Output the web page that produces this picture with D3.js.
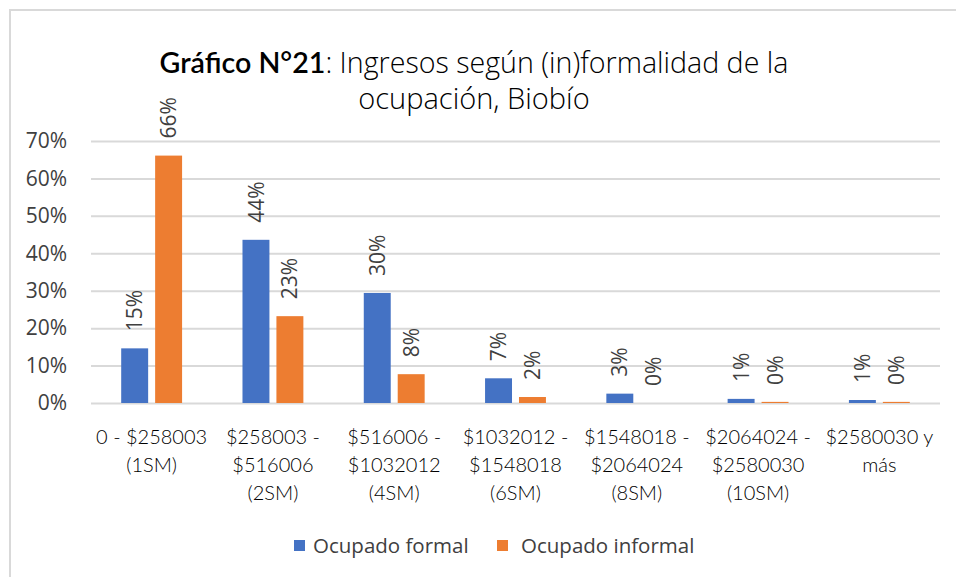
<!DOCTYPE html>
<html>
<head>
<meta charset="utf-8">
<script src="https://cdn.jsdelivr.net/npm/d3@7"></script>
<style>
  html, body { margin: 0; padding: 0; background: #fff; }
  svg { display: block; }
</style>
</head>
<body>
<div id="chart"></div>
<script>
// categorias (rangos de ingreso), cada una en lineas
var categories = [
    ['0 - $258003', '(1SM)'],
    ['$258003 -', '$516006', '(2SM)'],
    ['$516006 -', '$1032012', '(4SM)'],
    ['$1032012 -', '$1548018', '(6SM)'],
    ['$1548018 -', '$2064024', '(8SM)'],
    ['$2064024 -', '$2580030', '(10SM)'],
    ['$2580030 y', 'más']
];
var seriesNames = ['Ocupado formal', 'Ocupado informal'];
var formal = [0.146, 0.436, 0.294, 0.066, 0.025, 0.011, 0.008];
var informal = [0.661, 0.232, 0.077, 0.016, 0.0, 0.003, 0.003];
var labelsFormal = ['15%', '44%', '30%', '7%', '3%', '1%', '1%'];
var labelsInformal = ['66%', '23%', '8%', '2%', '0%', '0%', '0%'];
var yTicks = [0, 0.1, 0.2, 0.3, 0.4, 0.5, 0.6, 0.7];
var colors = ['#4472C4', '#ED7D31'];

var width = 956, height = 577;
var plot = { left: 91, right: 940, top: 141, bottom: 403 };

var svg = d3.select('#chart').append('svg')
    .attr('width', width)
    .attr('height', height);

// chart frame (right/bottom edges fall outside the picture)
svg.append('rect')
    .attr('x', 10).attr('y', 10)
    .attr('width', 960).attr('height', 580)
    .attr('fill', '#fff')
    .attr('stroke', '#d9d9d9')
    .attr('stroke-width', 2);

// title
var title = svg.append('text')
    .attr('x', 474).attr('y', 73)
    .attr('text-anchor', 'middle')
    .style('font-size', '28.6px')
    .style('fill', '#000');
title.append('tspan')
    .style('font-family', 'Lato, sans-serif')
    .style('font-weight', 600)
    .text('Gráfico N°21');
title.append('tspan')
    .style('font-family', '"Open Sans", sans-serif')
    .style('font-weight', 300)
    .text(': Ingresos según (in)formalidad de la');
svg.append('text')
    .attr('x', 474).attr('y', 109)
    .attr('text-anchor', 'middle')
    .style('font-size', '29px')
    .style('font-family', '"Open Sans", sans-serif')
    .style('font-weight', 300)
    .style('fill', '#000')
    .text('ocupación, Biobío');

var y = d3.scaleLinear().domain([0, 0.7]).range([plot.bottom, plot.top]);
var x0 = d3.scaleBand().domain(d3.range(categories.length))
    .range([plot.left, plot.right]).padding(0);
var bw = x0.bandwidth();
var x1 = d3.scaleBand().domain(d3.range(seriesNames.length))
    .range([bw * 0.249, bw * 0.751]).paddingInner(7 / 34).paddingOuter(0);

// gridlines
var yAxis = d3.axisLeft(y).tickValues(yTicks).tickFormat(d3.format('.0%'))
    .tickSize(-(plot.right - plot.left)).tickPadding(24);
var gy = svg.append('g')
    .attr('transform', 'translate(' + plot.left + ',0)')
    .call(yAxis);
gy.select('.domain').remove();
gy.selectAll('.tick line').attr('stroke', '#d9d9d9').attr('stroke-width', 2);
gy.selectAll('.tick text')
    .style('font-family', '"Open Sans", sans-serif')
    .style('font-size', '21px')
    .style('fill', '#404040');

// bars
var values = [formal, informal];
var labels = [labelsFormal, labelsInformal];
values.forEach(function (vals, s) {
    var g = svg.append('g');
    g.selectAll('rect').data(vals).enter().append('rect')
        .attr('x', function (d, i) { return x0(i) + x1(s); })
        .attr('y', function (d) { return y(d); })
        .attr('width', x1.bandwidth())
        .attr('height', function (d) { return y(0) - y(d); })
        .attr('fill', colors[s]);
    g.selectAll('text').data(vals).enter().append('text')
        .attr('transform', function (d, i) {
            var cx = x0(i) + x1(s) + x1.bandwidth() / 2;
            return 'translate(' + cx + ',' + (y(d) - 17) + ') rotate(-90)';
        })
        .attr('dy', '0.36em')
        .style('font-family', '"Open Sans", sans-serif')
        .style('font-size', '21px')
        .style('fill', '#404040')
        .text(function (d, i) { return labels[s][i]; });
});

// category labels
var gx = svg.append('g');
categories.forEach(function (lines, i) {
    var t = gx.append('text')
        .attr('x', x0(i) + bw / 2)
        .attr('y', 444)
        .attr('text-anchor', 'middle')
        .style('font-family', 'Lato, sans-serif')
        .style('font-weight', 300)
        .style('font-size', '20px')
        .style('fill', '#000');
    lines.forEach(function (line, k) {
        t.append('tspan')
            .attr('x', x0(i) + bw / 2)
            .attr('dy', k === 0 ? 0 : 28)
            .text(line);
    });
});

// legend
var legendItems = [{ x: 294, tx: 313 }, { x: 497, tx: 521 }];
legendItems.forEach(function (it, s) {
    svg.append('rect')
        .attr('x', it.x).attr('y', 540)
        .attr('width', 11).attr('height', 11)
        .attr('fill', colors[s]);
    svg.append('text')
        .attr('x', it.tx).attr('y', 553)
        .style('font-family', '"Open Sans", sans-serif')
        .style('font-size', '20.5px')
        .style('fill', '#404040')
        .text(seriesNames[s]);
});
</script>
</body>
</html>
